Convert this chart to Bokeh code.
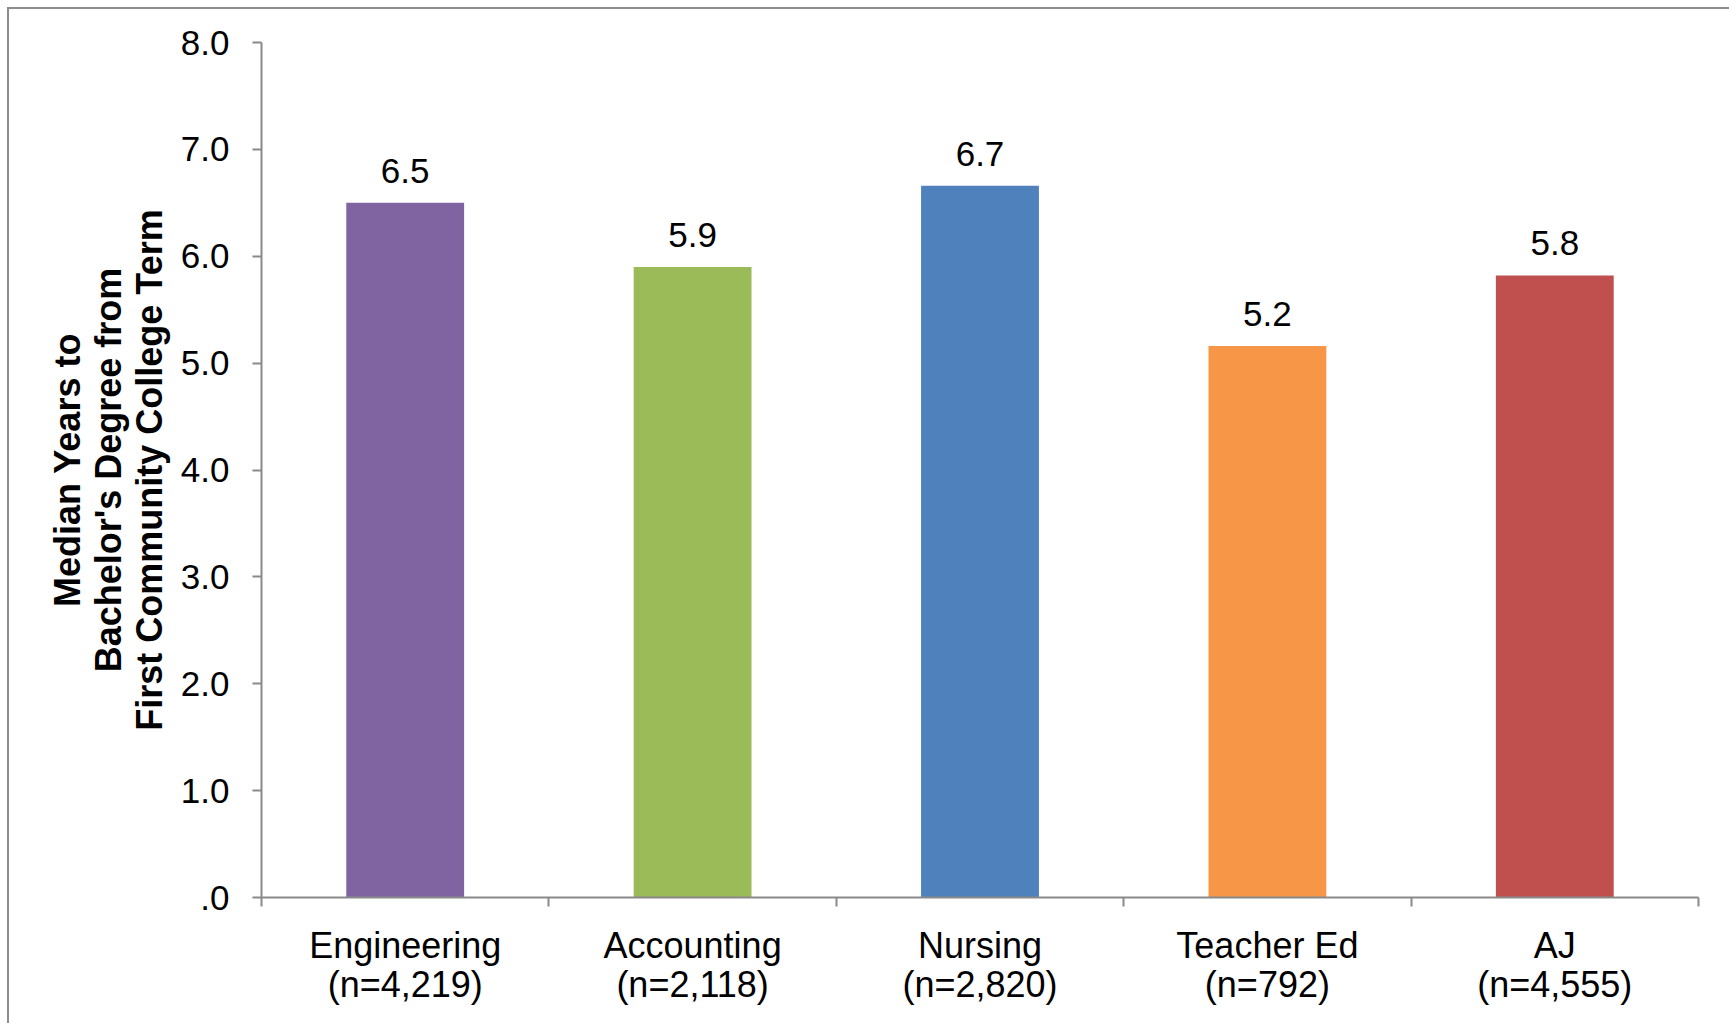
from bokeh.plotting import figure
from bokeh.models import ColumnDataSource, Range1d, FixedTicker, PrintfTickFormatter
from bokeh.core.properties import value
from bokeh.embed import file_html
from bokeh.resources import INLINE

# ---- data ----
categories = ["Engineering", "Accounting", "Nursing", "Teacher Ed", "AJ"]
counts = ["4,219", "2,118", "2,820", "792", "4,555"]
median_years = [6.5, 5.9, 6.66, 5.16, 5.82]
colors = ["#8064A2", "#9BBB59", "#4F81BD", "#F79646", "#C0504D"]
y_ticks = [0, 1, 2, 3, 4, 5, 6, 7, 8]
y_axis_title = "Median Years to\nBachelor's Degree from\nFirst Community College Term"

FONT = "Liberation Sans"
FS = "35px"
GREY = "#898989"

xs = [i + 0.5 for i in range(len(categories))]
labels = [f"{v:.1f}" for v in median_years]
source = ColumnDataSource(dict(x=xs, top=median_years, color=colors, label=labels))

p = figure(
    width=1722, height=1016,
    x_range=Range1d(0, len(categories)), y_range=Range1d(0, 8),
    output_backend="svg", toolbar_location=None,
    min_border_left=252, min_border_right=33, min_border_top=33, min_border_bottom=128,
    margin=(7, 0, 0, 7),
    styles={"border-top": "2px solid #8C8C8C", "border-left": "2px solid #8C8C8C"},
)
p.outline_line_color = None
p.xgrid.visible = False
p.ygrid.visible = False
p.background_fill_color = "white"
p.border_fill_color = "white"

p.vbar(x="x", top="top", bottom=0, width=0.41, fill_color="color", line_color=None, source=source)
p.text(x="x", y="top", text="label", source=source, text_align="center",
       text_baseline="alphabetic", y_offset=-32, text_font=value(FONT),
       text_font_size=FS, text_color="black")

# x axis
xa = p.xaxis[0]
xa.ticker = FixedTicker(ticks=xs, minor_ticks=list(range(len(categories) + 1)))
xa.major_label_overrides = {x: f"{c}\n(n={n})" for x, c, n in zip(xs, categories, counts)}
xa.major_tick_out = 0
xa.major_tick_in = 0
xa.minor_tick_out = 9
xa.minor_tick_in = 0
xa.minor_tick_line_color = GREY
xa.minor_tick_line_width = 2
xa.axis_line_color = GREY
xa.axis_line_width = 2
xa.major_label_text_font = FONT
xa.major_label_text_font_size = "36px"
xa.major_label_text_line_height = 0.97
xa.major_label_text_color = "black"
xa.major_label_standoff = 18

# y axis
ya = p.yaxis[0]
ya.ticker = FixedTicker(ticks=y_ticks, minor_ticks=[])
ya.formatter = PrintfTickFormatter(format="%.1f")
ya.major_label_overrides = {0: ".0"}
ya.major_tick_out = 9
ya.major_tick_in = 0
ya.major_tick_line_color = GREY
ya.major_tick_line_width = 2
ya.axis_line_color = GREY
ya.axis_line_width = 2
ya.major_label_text_font = FONT
ya.major_label_text_font_size = FS
ya.major_label_text_color = "black"
ya.major_label_standoff = 23
ya.axis_label = y_axis_title
ya.axis_label_text_font = FONT
ya.axis_label_text_font_size = "36px"
ya.axis_label_text_line_height = 1.0
ya.axis_label_text_font_style = "bold"
ya.axis_label_text_color = "black"
ya.axis_label_standoff = 8

open("out.html", "w").write(file_html(p, INLINE))
